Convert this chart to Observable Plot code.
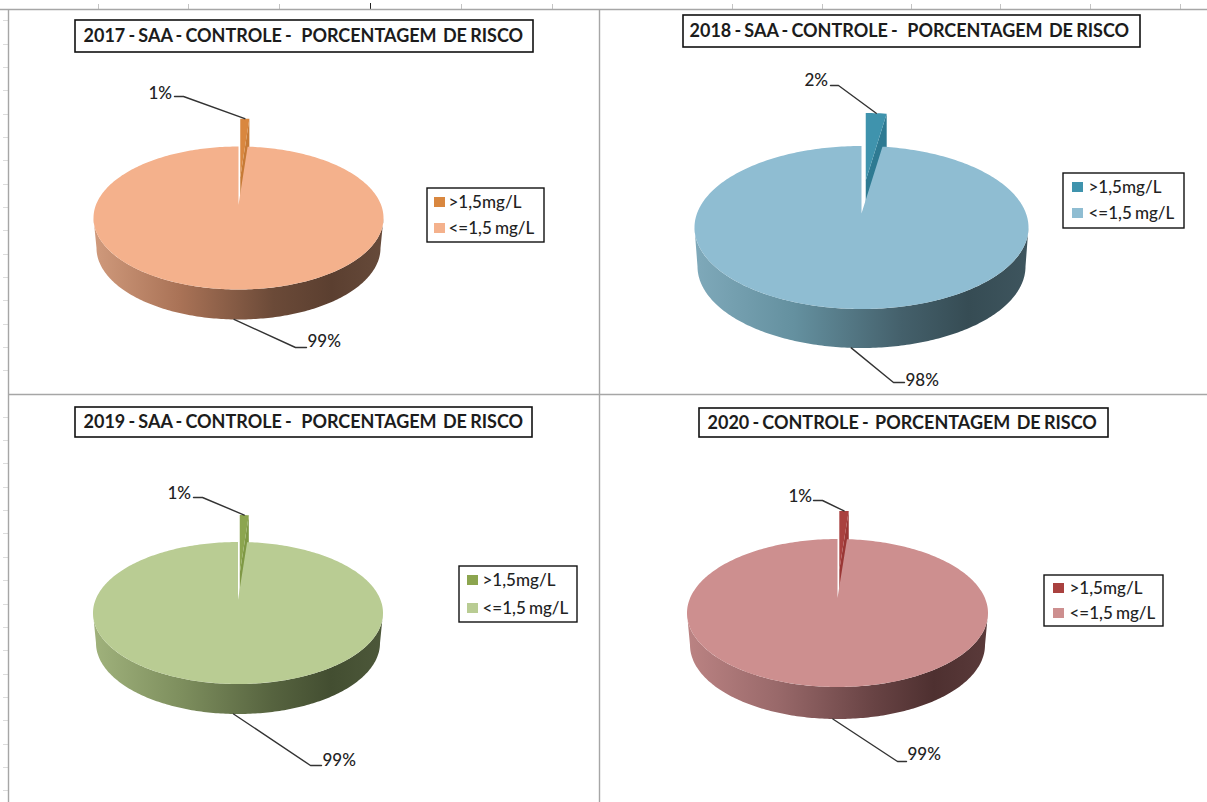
<!DOCTYPE html>
<html lang="pt">
<head>
<meta charset="utf-8">
<title>Porcentagem de risco - controle</title>
<script src="https://cdn.jsdelivr.net/npm/d3@7"></script>
<script src="https://cdn.jsdelivr.net/npm/@observablehq/plot@0.6"></script>
<style>
  html, body { margin: 0; padding: 0; background: #fff; }
  svg { display: block; }
</style>
</head>
<body>
<div id="chart"></div>
<script>
// Share of samples per risk class, one pair per year
const categories = [">1,5mg/L", "<=1,5 mg/L"];
const titles = [
  "2017 - SAA - CONTROLE -   PORCENTAGEM  DE RISCO",
  "2018 - SAA - CONTROLE -   PORCENTAGEM  DE RISCO",
  "2019 - SAA - CONTROLE -   PORCENTAGEM  DE RISCO",
  "2020 - CONTROLE -  PORCENTAGEM  DE RISCO"
];
const values2017 = [1, 99];
const values2018 = [2, 98];
const values2019 = [1, 99];
const values2020 = [1, 99];
const seriesValues = [values2017, values2018, values2019, values2020];

// Worksheet furniture around the four charts
const topTicks = [98, 188, 279, 461, 552, 732, 822, 911, 1000, 1090, 1180];
const sideTicks = [20, 44, 67, 90, 114, 137, 160, 184, 207, 230, 254, 277, 300, 324, 347, 370,
  417, 440, 463, 487, 510, 533, 557, 580, 604, 627, 650, 674, 697, 720, 744, 767, 790];

// Placement and colours of each chart on the sheet
const layouts = [
  {cx: 238, cy: 217.5, rx: 145, ry: 71.5, depth: 30, apex: 13, pull: 0.39,
   title: {x1: 75, x2: 533, y1: 20, y2: 52, tx: 83, ty: 36},
   legend: {x1: 427, x2: 544, y1: 188, y2: 242, sx: 434, sy: [197, 223], tx: 448},
   small: {label: [148, 93], elbow: [183, 96], end: 174},
   large: {label: [307, 341], elbow: [295, 347]},
   top: "#f4b18c", slice: "#d9873f", side: "#c67a36", wall: ["#d09a7c", "#a97256", "#6b4a38", "#5b3f30", "#664a3a"]},
  {cx: 861, cy: 227, rx: 167, ry: 81.5, depth: 39, apex: 14, pull: 0.405,
   title: {x1: 683, x2: 1140, y1: 15, y2: 47, tx: 689, ty: 31},
   legend: {x1: 1063, x2: 1184, y1: 173, y2: 228, sx: 1072, sy: [182, 208], tx: 1088},
   small: {label: [804, 80], elbow: [838, 85], end: 830},
   large: {label: [905, 380], elbow: [893, 382]},
   top: "#8fbdd2", slice: "#3f93ad", side: "#2e7a92", wall: ["#7fa9ba", "#64909f", "#44606b", "#364c54", "#3e555e"]},
  {cx: 237.5, cy: 612.5, rx: 145, ry: 71, depth: 30, apex: 13, pull: 0.38,
   title: {x1: 75, x2: 532, y1: 407, y2: 437, tx: 83, ty: 422},
   legend: {x1: 459, x2: 577, y1: 566, y2: 622, sx: 467, sy: [575, 603], tx: 482},
   small: {label: [167, 493], elbow: [202, 497], end: 193},
   large: {label: [322, 760], elbow: [310, 765]},
   top: "#b9cc93", slice: "#8ca54f", side: "#7f9845", wall: ["#a0b27c", "#7e8f5e", "#56633f", "#434e31", "#4d583a"]},
  {cx: 837, cy: 612.5, rx: 150.5, ry: 74, depth: 32, apex: 15, pull: 0.38,
   title: {x1: 699, x2: 1108, y1: 408, y2: 437, tx: 707, ty: 423},
   legend: {x1: 1044, x2: 1163, y1: 575, y2: 626, sx: 1053, sy: [583, 608], tx: 1069},
   small: {label: [788, 496], elbow: [822, 500], end: 813},
   large: {label: [907, 754], elbow: [897, 761]},
   top: "#cd8f8f", slice: "#a9413f", side: "#9a3735", wall: ["#bb8383", "#99696a", "#684344", "#4e3030", "#5a3a3a"]}
];

const sheetLine = "#a6a6a6";
const labelFont = "Lato, 'Open Sans', sans-serif";
const rad = Math.PI / 180;

// Point on an ellipse, with the angle measured clockwise from twelve o'clock
const onEllipse = (p, deg, dy = 0, rx = p.rx, ox = 0, oy = 0) => ({
  x: p.cx + ox + rx * Math.sin(deg * rad),
  y: p.cy + oy + dy - p.ry * Math.cos(deg * rad)
});

// Sample an arc from a start to an end angle, one point per degree
const arc = (p, from, to, dy, rx, ox, oy) => {
  const pts = [];
  for (let d = from; d < to; d += 1) pts.push(onEllipse(p, d, dy, rx, ox, oy));
  pts.push(onEllipse(p, to, dy, rx, ox, oy));
  return pts;
};

// Gradients shading the side wall of each pie from left to right
const wallDefs = () => {
  const defs = d3.create("svg:defs");
  const stops = [0, 0.3, 0.62, 0.82, 1];
  layouts.forEach((p, i) => {
    const g = defs.append("linearGradient").attr("id", `wall${i}`);
    p.wall.forEach((c, k) => g.append("stop").attr("offset", stops[k]).attr("stop-color", c));
  });
  return defs.node();
};

const polygon = (points, fill) => Plot.line(points, {x: "x", y: "y", fill, stroke: "none", curve: "linear"});

const pieMarks = (p, values, i) => {
  const sweep = values[0] / d3.sum(values) * 360;
  const mid = sweep / 2;
  const ox = p.pull * p.rx * Math.sin(mid * rad);
  const oy = -p.pull * p.ry * Math.cos(mid * rad);
  const apex = {x: p.cx, y: p.cy - p.apex};
  const sliceApex = {x: apex.x + ox, y: apex.y + oy};
  const sliceEnd = onEllipse(p, sweep, 0, p.rx, ox, oy);
  const bottomRx = p.rx - 3;

  const wall = [
    ...arc(p, 90, 270, 0, p.rx),
    ...arc(p, 90, 270, p.depth, bottomRx).reverse()
  ];
  const cutFace = [sliceApex, sliceEnd, {x: sliceEnd.x, y: sliceEnd.y + p.depth}, {x: sliceApex.x, y: sliceApex.y + p.depth}];
  const sliceTop = [sliceApex, ...arc(p, 0, sweep, 0, p.rx, ox, oy)];
  const mainTop = [apex, ...arc(p, sweep, 360, 0, p.rx)];

  // Leader lines start from the slices' own outer edges
  const smallAnchor = onEllipse(p, mid, 0, p.rx, ox, oy);
  const largeAnchor = onEllipse(p, sweep + (360 - sweep) / 2, p.depth, bottomRx);
  const smallLeader = [{x: p.small.end, y: p.small.elbow[1]}, {x: p.small.elbow[0], y: p.small.elbow[1]}, smallAnchor];
  const largeLeader = [largeAnchor, {x: p.large.elbow[0], y: p.large.elbow[1]}, {x: p.large.label[0] - 1, y: p.large.elbow[1]}];

  return [
    polygon(wall, `url(#wall${i})`),
    polygon(cutFace, p.side),
    polygon(sliceTop, p.slice),
    polygon(mainTop, p.top),
    Plot.line(smallLeader, {x: "x", y: "y", stroke: "#333", strokeWidth: 1.4}),
    Plot.line(largeLeader, {x: "x", y: "y", stroke: "#333", strokeWidth: 1.4}),
    Plot.text([{x: p.small.label[0], y: p.small.label[1], t: `${values[0]}%`}, {x: p.large.label[0], y: p.large.label[1], t: `${values[1]}%`}], {
      x: "x", y: "y", text: "t", textAnchor: "start", lineAnchor: "middle",
      fontFamily: labelFont, fontWeight: 500, fontSize: 17, fill: "#222"
    }),
    // Title box
    Plot.rect([p.title], {x1: "x1", x2: "x2", y1: "y1", y2: "y2", fill: "#fff", stroke: "#111", strokeWidth: 1.6}),
    Plot.text([{x: p.title.tx, y: p.title.ty, t: titles[i]}], {
      x: "x", y: "y", text: "t", textAnchor: "start", lineAnchor: "middle",
      fontFamily: labelFont, fontWeight: 700, fontSize: 18, fill: "#1c1c1c"
    }),
    // Legend box
    Plot.rect([p.legend], {x1: "x1", x2: "x2", y1: "y1", y2: "y2", fill: "#fff", stroke: "#111", strokeWidth: 1.4}),
    Plot.rect(categories.map((c, k) => ({x1: p.legend.sx, x2: p.legend.sx + 11, y1: p.legend.sy[k], y2: p.legend.sy[k] + 10, fill: k ? p.top : p.slice})), {
      x1: "x1", x2: "x2", y1: "y1", y2: "y2", fill: "fill"
    }),
    Plot.text(categories.map((c, k) => ({x: p.legend.tx, y: p.legend.sy[k] + 5, t: c})), {
      x: "x", y: "y", text: "t", textAnchor: "start", lineAnchor: "middle",
      fontFamily: labelFont, fontWeight: 500, fontSize: 17, fill: "#222"
    })
  ];
};

const sheetMarks = [
  Plot.ruleX(topTicks, {x: d => d, y1: 4, y2: 9, stroke: "#c4c4c4"}),
  Plot.ruleX([370], {x: d => d, y1: 3, y2: 9, stroke: "#222"}),
  Plot.ruleY(sideTicks, {y: d => d, x1: 3, x2: 8, stroke: "#dcdcdc"}),
  Plot.ruleY([9], {y: d => d, x1: 0, x2: 1207, stroke: sheetLine, strokeWidth: 1.4}),
  Plot.ruleY([394], {y: d => d, x1: 8, x2: 1207, stroke: sheetLine, strokeWidth: 1.4}),
  Plot.ruleX([8], {x: d => d, y1: 9, y2: 802, stroke: sheetLine, strokeWidth: 1.4}),
  Plot.ruleX([599], {x: d => d, y1: 9, y2: 802, stroke: sheetLine, strokeWidth: 1.4})
];

const chart = Plot.plot({
  width: 1207,
  height: 802,
  margin: 0,
  style: {background: "#fff", whiteSpace: "pre", wordSpacing: "-1.2px"},
  x: {domain: [0, 1207], range: [0, 1207], axis: null},
  y: {domain: [0, 802], range: [0, 802], axis: null},
  color: {type: "identity"},
  marks: [
    wallDefs,
    ...sheetMarks,
    ...layouts.flatMap((p, i) => pieMarks(p, seriesValues[i], i))
  ]
});

document.getElementById("chart").append(chart);
</script>
</body>
</html>
